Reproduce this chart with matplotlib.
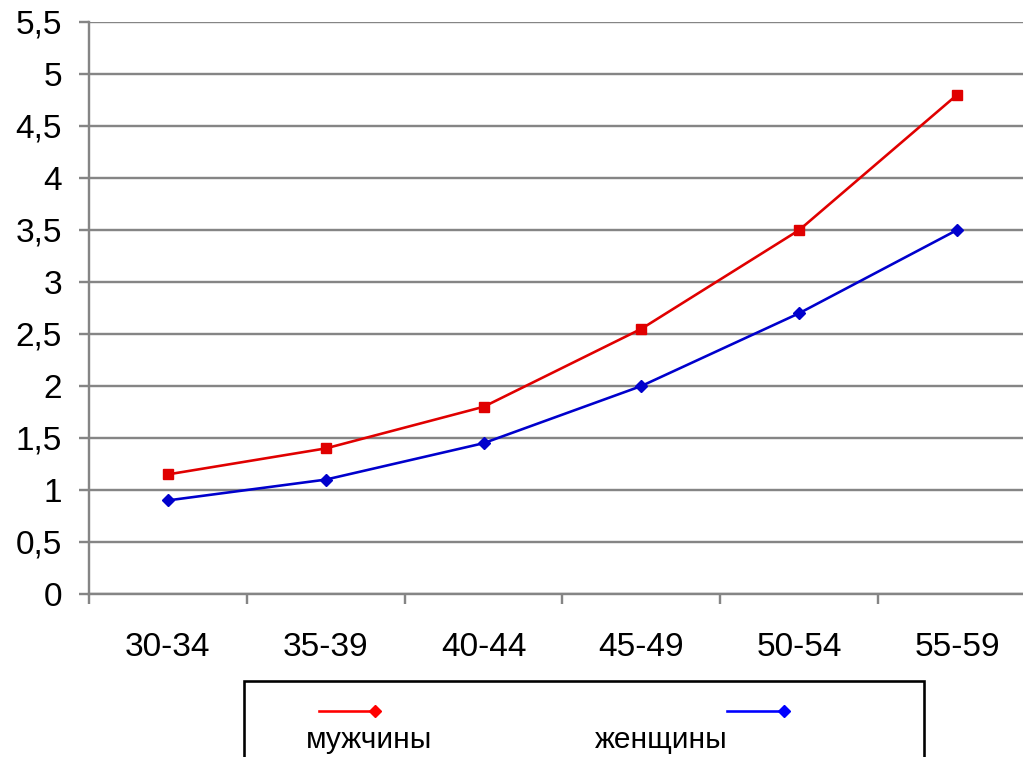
import matplotlib
matplotlib.use("Agg")
import matplotlib.pyplot as plt
from matplotlib.lines import Line2D
from matplotlib.patches import Rectangle
from matplotlib.ticker import FuncFormatter, FixedLocator

categories = ["30-34", "35-39", "40-44", "45-49", "50-54", "55-59"]
men = [1.15, 1.4, 1.8, 2.55, 3.5, 4.8]
women = [0.9, 1.1, 1.45, 2.0, 2.7, 3.5]
series_names = ["мужчины", "женщины"]
yticks = [0, 0.5, 1, 1.5, 2, 2.5, 3, 3.5, 4, 4.5, 5, 5.5]

plt.rcParams['font.family'] = ['Liberation Sans', 'DejaVu Sans']
W, H = 1023, 757
PX = 72 / 100  # points per pixel
fig = plt.figure(figsize=(W / 100, H / 100), dpi=100)
fig.patch.set_facecolor('white')

ax = fig.add_axes([89 / W, 1 - 594 / H, 947 / W, 572 / H])
x = list(range(len(categories)))
red = '#E00000'
blue = '#0000CC'
grid = '#858585'

ax.plot(x, men, color=red, lw=2.6 * PX, marker='s', ms=10 * PX, mfc=red, mec=red, zorder=3)
ax.plot(x, women, color=blue, lw=2.6 * PX, marker='D', ms=9 * PX, mfc=blue, mec=blue, zorder=3)

ax.set_xlim(-0.5, 5.5)
ax.set_ylim(0, 5.5)
ax.set_yticks(yticks)
ax.yaxis.set_major_formatter(FuncFormatter(lambda v, p: (f"{v:g}").replace('.', ',')))
ax.yaxis.grid(True, color=grid, lw=2.4 * PX)
ax.set_axisbelow(True)

ax.set_xticks(x)
ax.set_xticklabels(categories)
ax.xaxis.set_minor_locator(FixedLocator([i - 0.5 for i in range(len(categories) + 1)]))
ax.tick_params(axis='x', which='major', length=0, pad=27, labelsize=24)
ax.tick_params(axis='x', which='minor', length=10 * PX, width=2.4 * PX, color=grid, direction='out')
ax.tick_params(axis='y', length=10 * PX, width=2.4 * PX, color=grid, pad=17 * PX, labelsize=24)

for s in ['top', 'right']:
    ax.spines[s].set_visible(False)
for s in ['left', 'bottom']:
    ax.spines[s].set_color(grid)
    ax.spines[s].set_linewidth(2.4 * PX)

# legend box (custom layout)
fig.add_artist(Rectangle((244 / W, -0.01), (924 - 244) / W, 1 - 681 / H + 0.01,
                         transform=fig.transFigure, fill=False, ec='black', lw=2.6 * PX))
ly = 1 - 711 / H
fig.add_artist(Line2D([319 / W, 375 / W], [ly, ly], transform=fig.transFigure, color='#FF0000', lw=2.6 * PX))
fig.add_artist(Line2D([375 / W], [ly], transform=fig.transFigure, color='#FF0000', marker='D', ms=8 * PX, lw=0))
fig.add_artist(Line2D([727 / W, 784 / W], [ly, ly], transform=fig.transFigure, color='#0000FF', lw=2.6 * PX))
fig.add_artist(Line2D([784 / W], [ly], transform=fig.transFigure, color='#0000FF', marker='D', ms=8 * PX, lw=0))
ty = 1 - 740 / H
fig.text(306 / W, ty, series_names[0], fontsize=21.5, va='center', ha='left')
fig.text(595 / W, ty, series_names[1], fontsize=21.5, va='center', ha='left')

fig.savefig('out.png', dpi=100, facecolor='white')
